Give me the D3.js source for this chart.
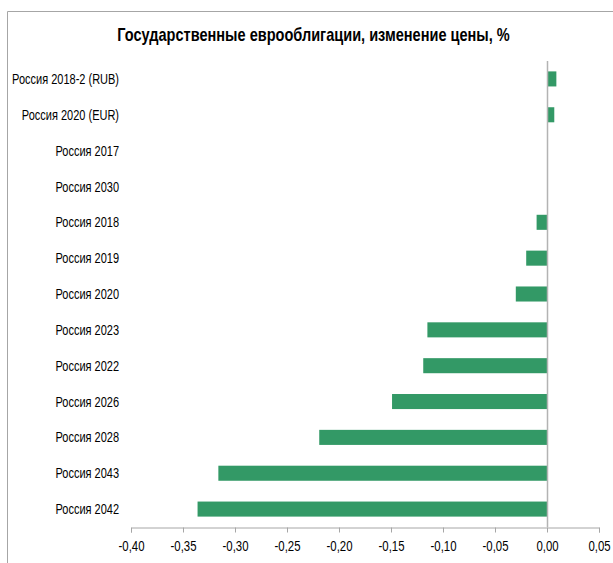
<!DOCTYPE html>
<html>
<head>
<meta charset="utf-8">
<script src="https://cdn.jsdelivr.net/npm/d3@7"></script>
<style>
  body { margin: 0; background: #fff; }
  svg text { font-family: "Liberation Sans", Arial, sans-serif; fill: #000; }
</style>
</head>
<body>
<div id="chart"></div>
<script>
var titleText = 'Государственные еврооблигации, изменение цены, %';
var bonds = ['Россия 2018-2 (RUB)', 'Россия 2020 (EUR)', 'Россия 2017', 'Россия 2030',
  'Россия 2018', 'Россия 2019', 'Россия 2020', 'Россия 2023', 'Россия 2022',
  'Россия 2026', 'Россия 2028', 'Россия 2043', 'Россия 2042'];
var priceChange = [0.009, 0.007, 0, 0, -0.010, -0.020, -0.030, -0.115, -0.119,
  -0.149, -0.219, -0.316, -0.336];
var xTicks = [-0.40, -0.35, -0.30, -0.25, -0.20, -0.15, -0.10, -0.05, 0.00, 0.05];

var width = 613, height = 563;
var svg = d3.select('#chart').append('svg')
  .attr('width', width)
  .attr('height', height);

// squeeze text horizontally to mimic a narrow font
function narrow(sel, targetWidth) {
  var w = sel.node().getComputedTextLength();
  return targetWidth / w;
}

// frame (top and left edges visible)
svg.append('line').attr('x1', 7.5).attr('x2', width).attr('y1', 11.5).attr('y2', 11.5)
  .attr('stroke', '#a6a6a6').attr('stroke-width', 1);
svg.append('line').attr('x1', 7.5).attr('x2', 7.5).attr('y1', 11.5).attr('y2', height)
  .attr('stroke', '#a6a6a6').attr('stroke-width', 1);

var titleG = svg.append('g');
var title = titleG.append('text')
  .attr('text-anchor', 'middle')
  .style('font-size', '17.5px')
  .style('font-weight', 'bold')
  .text(titleText);
titleG.attr('transform', 'translate(313.5,40.5) scale(' + narrow(title, 393) + ',1)');

var x = d3.scaleLinear().domain([-0.40, 0.05]).range([131, 599]);
var y = d3.scaleBand().domain(bonds).range([61, 527]).paddingInner(0.58).paddingOuter(0.29);

var data = bonds.map(function(b, i) { return { name: b, value: priceChange[i] }; });

//bars
svg.selectAll('.bar')
  .data(data)
  .enter().append('rect')
    .attr('class', 'bar')
    .attr('x', function(d) { return x(Math.min(0, d.value)); })
    .attr('y', function(d) { return y(d.name); })
    .attr('width', function(d) { return Math.abs(x(d.value) - x(0)); })
    .attr('height', y.bandwidth())
    .attr('fill', '#339966');

//zero line
svg.append('line')
  .attr('x1', x(0) + 0.5).attr('x2', x(0) + 0.5)
  .attr('y1', 61).attr('y2', 527)
  .attr('stroke', '#b3b3b3').attr('stroke-width', 1.5);

//category labels
var labels = svg.selectAll('.cat-label')
  .data(bonds)
  .enter().append('g')
    .attr('class', 'cat-label');
labels.append('text')
  .attr('dy', '.36em')
  .attr('text-anchor', 'end')
  .style('font-size', '14px')
  .text(function(d) { return d; });
var labelScale = narrow(labels.select('text'), 107);
labels.attr('transform', function(d) {
  return 'translate(119,' + (y(d) + y.bandwidth() / 2) + ') scale(' + labelScale + ',1)';
});

//x axis
var fmt = function(v) { return d3.format('.2f')(v).replace('.', ',').replace('−', '-'); };
var xAxis = d3.axisBottom(x).tickValues(xTicks).tickFormat(fmt).tickSizeOuter(0).tickSize(5).tickPadding(9);
var ax = svg.append('g')
  .attr('transform', 'translate(0,527.5)')
  .call(xAxis);
ax.select('.domain').attr('stroke', '#a6a6a6');
ax.selectAll('.tick line').attr('stroke', '#a6a6a6');
var tickText = ax.selectAll('.tick text')
  .style('font-size', '14px')
  .style('font-family', '"Liberation Sans", Arial, sans-serif');
var tickScale = narrow(tickText, 26);
tickText.attr('transform', 'scale(' + tickScale + ',1)')
  .attr('x', 0);
</script>
</body>
</html>
